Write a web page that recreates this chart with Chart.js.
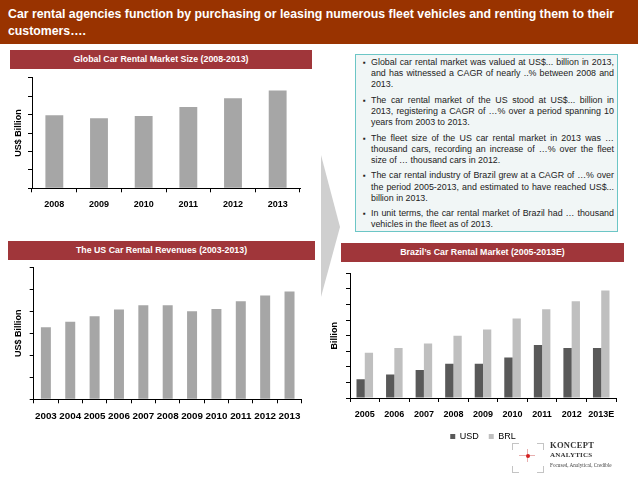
<!DOCTYPE html>
<html><head><meta charset="utf-8">
<script src="https://cdn.jsdelivr.net/npm/chart.js@4.4.0/dist/chart.umd.min.js"></script>
<style>
html,body{margin:0;padding:0;background:#fff;}
body{width:638px;height:479px;position:relative;overflow:hidden;font-family:"Liberation Sans",Arial,sans-serif;}
.abs{position:absolute;}
#header{left:0;top:0;width:638px;height:44px;background:#993300;color:#fff;font-weight:bold;font-size:12.3px;line-height:17px;padding:6px 0 0 8px;box-sizing:border-box;white-space:nowrap;}
.tbar{position:absolute;background:#a0363a;color:#fff;font-weight:bold;font-size:8.8px;text-align:center;height:19px;line-height:19px;white-space:nowrap;}
#tbox{left:355px;top:54px;width:263px;height:178px;box-sizing:border-box;border:1px solid #6cc6c6;background:#f1f6f6;padding:2px 3px 0 7px;}
#tbox ul{margin:0;padding:0;list-style:none;}
#tbox li{position:relative;padding-left:8px;font-size:8.9px;line-height:11.2px;text-align:justify;margin-bottom:4.2px;color:#222;}
#tbox li::before{content:"\25AA";position:absolute;left:0;top:0;font-size:8px;}
canvas{position:absolute;}
.logo-k{font-family:"Liberation Serif",serif;font-weight:bold;color:#333;white-space:nowrap;}
.corner{position:absolute;width:6px;height:6px;border-color:#c4c4c4;border-style:solid;border-width:0;}
</style></head>
<body>
<div id="header" class="abs">Car rental agencies function by purchasing or leasing numerous fleet vehicles and renting them to their<br>customers….</div>

<svg class="abs" style="left:0;top:0" width="638" height="479"><polygon points="321,155 340,227 321,297" fill="#cfcfcf"/></svg>

<div class="tbar" style="left:10px;top:50px;width:302px;">Global Car Rental Market Size (2008-2013)</div>
<div class="tbar" style="left:8px;top:241px;width:307px;">The US Car Rental Revenues (2003-2013)</div>
<div class="tbar" style="left:341px;top:243px;width:283px;">Brazil’s Car Rental Market (2005-2013E)</div>

<div id="tbox" class="abs"><ul>
<li>Global car rental market was valued at US$... billion in 2013, and has witnessed a CAGR of nearly ..% between 2008 and 2013.</li>
<li>The car rental market of the US stood at US$... billion in 2013, registering a CAGR of …% over a period spanning 10 years from 2003 to 2013.</li>
<li>The fleet size of the US car rental market in 2013 was … thousand cars, recording an increase of …% over the fleet size of … thousand cars in 2012.</li>
<li>The car rental industry of Brazil grew at a CAGR of …% over the period 2005-2013, and estimated to have reached US$... billion in 2013.</li>
<li>In unit terms, the car rental market of Brazil had … thousand vehicles in the fleet as of 2013.</li>
</ul></div>

<canvas id="c1" width="318" height="148" style="left:0;top:72px;"></canvas>
<canvas id="c2" width="318" height="170" style="left:0;top:262px;"></canvas>
<canvas id="c3" width="313" height="185" style="left:325px;top:266px;"></canvas>

<!-- logo -->
<div class="corner" style="left:512px;top:443px;border-top-width:1px;border-left-width:1px;"></div>
<div class="corner" style="left:537px;top:443px;border-top-width:1px;border-right-width:1px;"></div>
<div class="corner" style="left:512px;top:466px;border-bottom-width:1px;border-left-width:1px;"></div>
<div class="corner" style="left:537px;top:466px;border-bottom-width:1px;border-right-width:1px;"></div>
<div class="abs" style="left:519px;top:455px;width:16px;height:1px;background:#e8b0b0;"></div>
<div class="abs" style="left:527px;top:449px;width:1px;height:13px;background:#e8b0b0;"></div>
<div class="abs" style="left:525.5px;top:453.5px;width:4px;height:4px;border-radius:2px;background:#d42020;"></div>
<div class="abs logo-k" style="left:550px;top:440px;font-size:8.5px;letter-spacing:0.3px;">KONCEPT</div>
<div class="abs logo-k" style="left:550px;top:451px;font-size:7px;letter-spacing:0.2px;">ANALYTICS</div>
<div class="abs" style="left:550px;top:462px;font-size:5.2px;font-family:'Liberation Serif',serif;color:#444;white-space:nowrap;">Focused, Analytical, Credible</div>

<script>
// ---- data ----
const globalYears = ['2008', '2009', '2010', '2011', '2012', '2013'];
const globalMarket = [39.6, 38.0, 39.2, 44.1, 48.8, 53.0];

const usYears = ['2003', '2004', '2005', '2006', '2007', '2008', '2009', '2010', '2011', '2012', '2013'];
const usRevenue = [16.4, 17.6, 18.9, 20.4, 21.4, 21.4, 20.0, 20.5, 22.3, 23.6, 24.5];

const brazilYears = ['2005', '2006', '2007', '2008', '2009', '2010', '2011', '2012', '2013E'];
const brazilUSD = [1.2, 1.5, 1.8, 2.2, 2.2, 2.6, 3.4, 3.2, 3.2];
const brazilBRL = [2.9, 3.2, 3.5, 4.0, 4.4, 5.1, 5.7, 6.2, 6.9];

// ---- charts ----
Chart.defaults.font.family = '"Liberation Sans", Arial, sans-serif';
Chart.defaults.color = '#000';
Chart.defaults.animation = false;

function makeBar(id, labels, datasets, cfg) {
  return new Chart(document.getElementById(id), {
    type: 'bar',
    data: { labels: labels, datasets: datasets },
    options: {
      responsive: false,
      animation: false,
      layout: { padding: cfg.padding },
      plugins: {
        legend: cfg.legend || { display: false },
        tooltip: { enabled: false }
      },
      scales: {
        x: {
          grid: { display: true, drawOnChartArea: false, drawTicks: true, tickLength: 4, color: '#000', offset: true },
          border: { display: true, color: '#000', width: 1 },
          ticks: { font: { size: cfg.xFont, weight: 'bold' }, color: '#000', padding: cfg.xPad, maxRotation: 0, autoSkip: false },
          afterFit: s => { s.height = cfg.xHeight; }
        },
        y: {
          min: 0, max: cfg.yMax,
          grid: { display: true, drawOnChartArea: false, drawTicks: true, tickLength: 4, color: '#000' },
          border: { display: true, color: '#000', width: 1 },
          ticks: { display: false, stepSize: cfg.yStep },
          title: { display: true, text: cfg.yTitle, font: { size: 9, weight: 'bold' }, color: '#000', padding: { top: cfg.titlePad, bottom: 0 } },
          afterFit: s => { s.width = cfg.yWidth; }
        }
      }
    }
  });
}

makeBar('c1', globalYears, [{
  label: 'Global', data: globalMarket, backgroundColor: '#a6a6a6',
  categoryPercentage: 0.8, barPercentage: 0.5
}], { padding: { top: 5.7, right: 18, left: 0, bottom: 0 }, yMax: 60, yStep: 10, yWidth: 32, xHeight: 31.7, xPad: 7.3, xFont: 9, titlePad: 13.6, yTitle: 'US$ Billion' });

makeBar('c2', usYears, [{
  label: 'US', data: usRevenue, backgroundColor: '#a6a6a6',
  categoryPercentage: 0.82, barPercentage: 0.5
}], { padding: { top: 5.3, right: 16.3, left: 0, bottom: 0 }, yMax: 30, yStep: 5, yWidth: 33.7, xHeight: 32.7, xPad: 7.5, xFont: 9.8, titlePad: 13.6, yTitle: 'US$ Billion' });

makeBar('c3', brazilYears, [
  { label: 'USD', data: brazilUSD, backgroundColor: '#595959', categoryPercentage: 0.56, barPercentage: 1.0 },
  { label: 'BRL', data: brazilBRL, backgroundColor: '#bfbfbf', categoryPercentage: 0.56, barPercentage: 1.0 }
], { padding: { top: 7.3, right: 22, left: 0, bottom: 0 }, yMax: 8, yStep: 1, yWidth: 25, xHeight: 24, xPad: 6.9, xFont: 9, titlePad: 4.6, yTitle: 'Billion',
  legend: { display: true, position: 'bottom', fullSize: false,
    labels: { boxWidth: 5, boxHeight: 5, padding: 10, font: { size: 9 }, color: '#000' } } });
</script>
</body></html>
